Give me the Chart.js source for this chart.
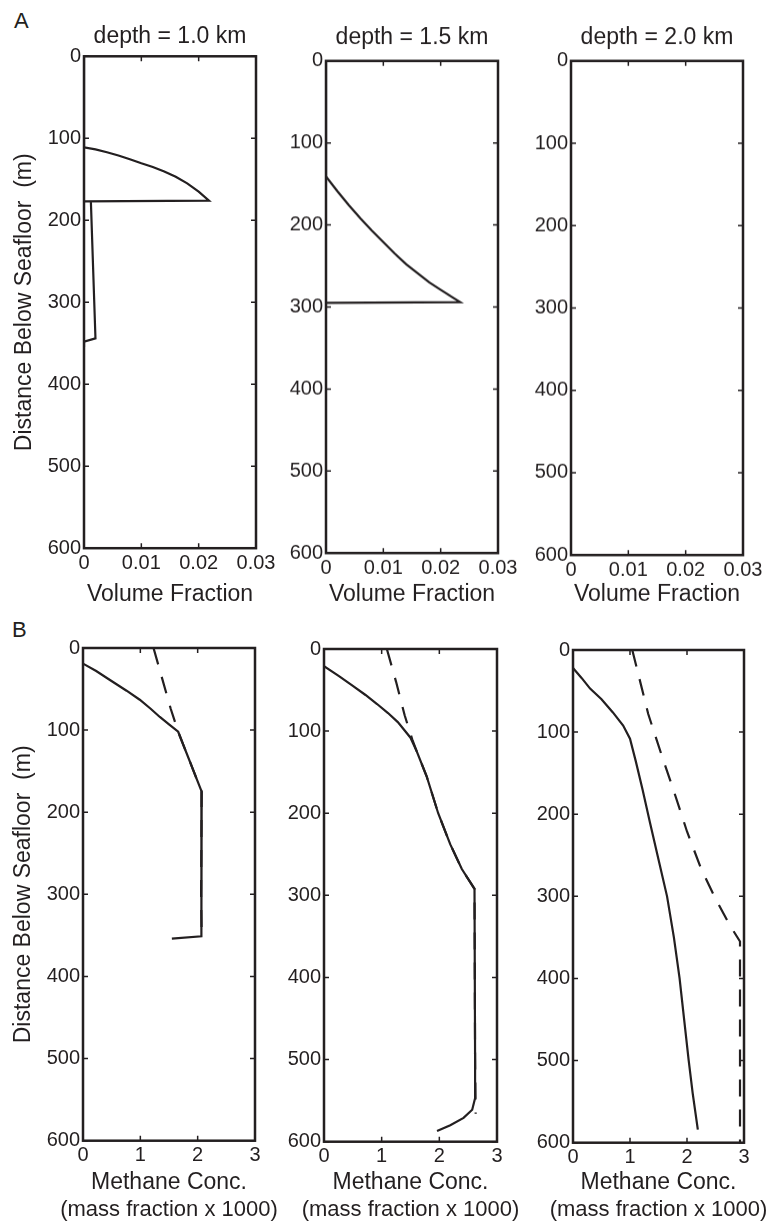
<!DOCTYPE html>
<html lang="en">
<head>
<meta charset="UTF-8">
<title>Hydrate volume fraction and methane concentration profiles</title>
<script src="https://cdn.jsdelivr.net/npm/chart.js"></script>
<style>
  body { margin: 0; background: #fff; }
  #page { position: relative; width: 770px; height: 1224px; overflow: hidden; }
  .panel { position: absolute; }
  .tag { position: absolute; font: 22px "Liberation Sans", Arial, sans-serif; line-height: 1; color: #231f20; }
</style>
</head>
<body>
<div id="page">
  <div class="tag" style="left:14px; top:10px;">A</div>
  <div class="tag" style="left:12px; top:619px;">B</div>
</div>
<script>
// ticks and labels
const depthTicks = [0, 100, 200, 300, 400, 500, 600];
const fracTicks = [0, 0.01, 0.02, 0.03];
const fracTickLabels = ['0', '0.01', '0.02', '0.03'];
const concTicks = [0, 1, 2, 3];
const concTickLabels = ['0', '1', '2', '3'];
const depthTitles = ['depth = 1.0 km', 'depth = 1.5 km', 'depth = 2.0 km'];

// row A: volume fraction vs distance below seafloor (m)
const a1Depth = [0, 111, 113.5, 117, 121, 125.5, 130.5, 135, 140.5, 147, 155, 165, 176, 177, 177, 344, 348, 355];
const a1Frac  = [0, 0, 0.002, 0.004, 0.006, 0.008, 0.010, 0.012, 0.014, 0.016, 0.018, 0.020, 0.0218, 0, 0.0012, 0.0020, 0, 0];
const a2Depth = [0, 141, 159, 176, 192, 207, 221, 235, 248, 259, 270, 279, 288, 294, 295];
const a2Frac  = [0, 0, 0.002, 0.004, 0.006, 0.008, 0.010, 0.012, 0.014, 0.016, 0.018, 0.020, 0.022, 0.0234, 0];
// depth = 2.0 km panel is empty

// row B: methane conc. (solid) and solubility (dashed)
const b1Depth = [19, 28, 39, 52, 63, 74, 84, 93, 102, 175, 300, 351, 354];
const b1Conc  = [0, 0.23, 0.47, 0.76, 0.99, 1.18, 1.34, 1.50, 1.66, 2.07, 2.06, 2.07, 1.55];
const b1EqDepth = [0, 37, 74, 102, 175, 300, 351];
const b1EqConc  = [1.23, 1.38, 1.53, 1.66, 2.07, 2.06, 2.07];

const b2Depth = [21, 33, 45, 56, 67, 78, 89, 108, 125, 155, 200, 238, 268, 292, 500, 547, 561, 571, 580, 587];
const b2Conc  = [0, 0.26, 0.50, 0.72, 0.92, 1.11, 1.28, 1.50, 1.61, 1.78, 1.98, 2.19, 2.39, 2.61, 2.62, 2.62, 2.57, 2.42, 2.19, 1.96];
const b2EqDepth = [0, 40, 81, 110, 125, 155, 200, 238, 268, 292, 500, 566];
const b2EqConc  = [1.09, 1.25, 1.40, 1.53, 1.61, 1.78, 1.98, 2.19, 2.39, 2.61, 2.62, 2.63];

const b3Depth = [22, 34, 47, 60, 76, 92, 108, 135, 170, 210, 255, 300, 350, 400, 450, 500, 540, 584];
const b3Conc  = [0, 0.15, 0.30, 0.50, 0.70, 0.88, 1.00, 1.10, 1.22, 1.35, 1.50, 1.65, 1.77, 1.87, 1.95, 2.03, 2.10, 2.19];
const b3EqDepth = [0, 78, 127, 172, 221, 265, 303, 335, 355, 600];
const b3EqConc  = [1.04, 1.32, 1.55, 1.77, 2.00, 2.24, 2.50, 2.75, 2.93, 2.93];

const ink = '#231f20';
const fam = '"Liberation Sans", Arial, Helvetica, sans-serif';

// box frame + inward ticks on all four sides
const frameTicks = {
  id: 'frameTicks',
  afterDatasetsDraw(chart) {
    const {ctx, chartArea: a, scales: {x, y}} = chart;
    ctx.save();
    ctx.strokeStyle = ink;
    ctx.lineWidth = 1.5;
    ctx.beginPath();
    x.ticks.forEach(t => {
      const px = x.getPixelForValue(t.value);
      ctx.moveTo(px, a.bottom); ctx.lineTo(px, a.bottom - 5);
      ctx.moveTo(px, a.top); ctx.lineTo(px, a.top + 5);
    });
    y.ticks.forEach(t => {
      const py = y.getPixelForValue(t.value);
      ctx.moveTo(a.left, py); ctx.lineTo(a.left + 5, py);
      ctx.moveTo(a.right, py); ctx.lineTo(a.right - 5, py);
    });
    ctx.stroke();
    ctx.lineWidth = 2.5;
    ctx.strokeRect(a.left, a.top, a.right - a.left, a.bottom - a.top);
    ctx.restore();
  }
};

// second line under the x title, wider than the plot, so not squeezed
const axisNote = {
  id: 'axisNote',
  afterDraw(chart, args, opts) {
    if (!opts.text) return;
    const {ctx, chartArea: a} = chart;
    ctx.save();
    ctx.font = opts.size + 'px ' + fam;
    ctx.fillStyle = ink;
    ctx.textAlign = 'center';
    ctx.textBaseline = 'middle';
    ctx.fillText(opts.text, (a.left + a.right) / 2, a.bottom + opts.offset);
    ctx.restore();
  }
};

function line(xs, ys, dashed) {
  return {
    data: xs.map((v, i) => ({x: v, y: ys[i]})),
    borderColor: ink,
    borderWidth: 2.2,
    borderDash: dashed ? [17, 13] : [],
    pointRadius: 0,
    fill: false,
    tension: 0
  };
}

function makeConfig(p) {
  return {
    type: 'line',
    data: { datasets: p.series },
    options: {
      responsive: false,
      maintainAspectRatio: false,
      animation: false,
      events: [],
      layout: { padding: { left: 0, right: 30, top: 0, bottom: 40 } },
      plugins: {
        legend: { display: false },
        tooltip: { enabled: false },
        title: {
          display: !!p.title,
          text: p.title,
          fullSize: false,
          color: ink,
          font: { family: fam, size: 23, weight: 'normal', lineHeight: 1.2 },
          padding: { top: 4, bottom: p.titleGap || 0 }
        },
        axisNote: { text: p.note, size: 22, offset: 1210 - p.box.b }
      },
      scales: {
        x: {
          type: 'linear',
          position: 'bottom',
          min: p.xTicks[0],
          max: p.xTicks[p.xTicks.length - 1],
          afterBuildTicks: s => { s.ticks = p.xTicks.map(v => ({value: v})); },
          ticks: {
            callback: (v, i) => p.xLabels[i],
            color: ink,
            font: { family: fam, size: 20 },
            padding: 3,
            maxRotation: 0,
            autoSkip: false
          },
          grid: { display: false, drawTicks: false },
          border: { display: false },
          title: {
            display: true,
            text: p.xTitle,
            color: ink,
            font: { family: fam, size: 23, lineHeight: 1.2 },
            padding: { top: 0, bottom: 0 }
          },
          afterFit: s => { s.height = p.xAxisH; }
        },
        y: {
          type: 'linear',
          reverse: true,
          min: 0,
          max: 600,
          afterBuildTicks: s => { s.ticks = depthTicks.map(v => ({value: v})); },
          ticks: {
            color: ink,
            font: { family: fam, size: 20 },
            padding: 3,
            autoSkip: false
          },
          grid: { display: false, drawTicks: false },
          border: { display: false },
          title: {
            display: p.yTitle,
            text: 'Distance Below Seafloor  (m)',
            color: ink,
            font: { family: fam, size: 23, lineHeight: 1.2 },
            padding: { top: 11, bottom: 0 }
          },
          afterFit: s => { s.width = p.yAxisW; }
        }
      }
    },
    plugins: [frameTicks, axisNote]
  };
}

const page = document.getElementById('page');

// build a chart, then resize and shift it so its plot area lands on p.box
function build(p) {
  const wrap = document.createElement('div');
  wrap.className = 'panel';
  page.appendChild(wrap);
  const bw = p.box.r - p.box.l, bh = p.box.b - p.box.t;
  let w = bw + 160, h = bh + 200;
  let chart = null;
  for (let pass = 0; pass < 2; pass++) {
    if (chart) chart.destroy();
    wrap.innerHTML = '';
    const cv = document.createElement('canvas');
    cv.width = w; cv.height = h;
    cv.style.width = w + 'px'; cv.style.height = h + 'px';
    wrap.appendChild(cv);
    chart = new Chart(cv, makeConfig(p));
    const a = chart.chartArea;
    w += bw - (a.right - a.left);
    h += bh - (a.bottom - a.top);
  }
  const a = chart.chartArea;
  wrap.style.left = (p.box.l - a.left) + 'px';
  wrap.style.top = (p.box.t - a.top) + 'px';
}

const fracTitle = 'Volume Fraction';
const concTitle = 'Methane Conc.';
const concNote = '(mass fraction x 1000)';
const lh = 23 * 1.2;

const panels = [
  { box: {l: 84, r: 256, t: 56, b: 548}, title: depthTitles[0], titleGap: 5.7, yTitle: true, yAxisW: 84,
    xTicks: fracTicks, xLabels: fracTickLabels, xTitle: fracTitle, xAxisH: 594 - 548 + lh / 2,
    series: [line(a1Frac, a1Depth)] },
  { box: {l: 326, r: 498, t: 61, b: 553}, title: depthTitles[1], titleGap: 9.2, yTitle: false, yAxisW: 60,
    xTicks: fracTicks, xLabels: fracTickLabels, xTitle: fracTitle, xAxisH: 594 - 553 + lh / 2,
    series: [line(a2Frac, a2Depth)] },
  { box: {l: 571, r: 743, t: 61, b: 555}, title: depthTitles[2], titleGap: 9.2, yTitle: false, yAxisW: 60,
    xTicks: fracTicks, xLabels: fracTickLabels, xTitle: fracTitle, xAxisH: 594 - 555 + lh / 2,
    series: [] },
  { box: {l: 83, r: 255, t: 648, b: 1141}, title: '', yTitle: true, yAxisW: 84,
    xTicks: concTicks, xLabels: concTickLabels, xTitle: concTitle, note: concNote, xAxisH: 1182.5 - 1141 + lh / 2,
    series: [line(b1Conc, b1Depth), line(b1EqConc, b1EqDepth, true)] },
  { box: {l: 324, r: 497, t: 649, b: 1142}, title: '', yTitle: false, yAxisW: 60,
    xTicks: concTicks, xLabels: concTickLabels, xTitle: concTitle, note: concNote, xAxisH: 1182.5 - 1142 + lh / 2,
    series: [line(b2Conc, b2Depth), line(b2EqConc, b2EqDepth, true)] },
  { box: {l: 573, r: 744, t: 650, b: 1143}, title: '', yTitle: false, yAxisW: 60,
    xTicks: concTicks, xLabels: concTickLabels, xTitle: concTitle, note: concNote, xAxisH: 1182.5 - 1143 + lh / 2,
    series: [line(b3Conc, b3Depth), line(b3EqConc, b3EqDepth, true)] }
];

panels.forEach(build);
</script>
</body>
</html>
